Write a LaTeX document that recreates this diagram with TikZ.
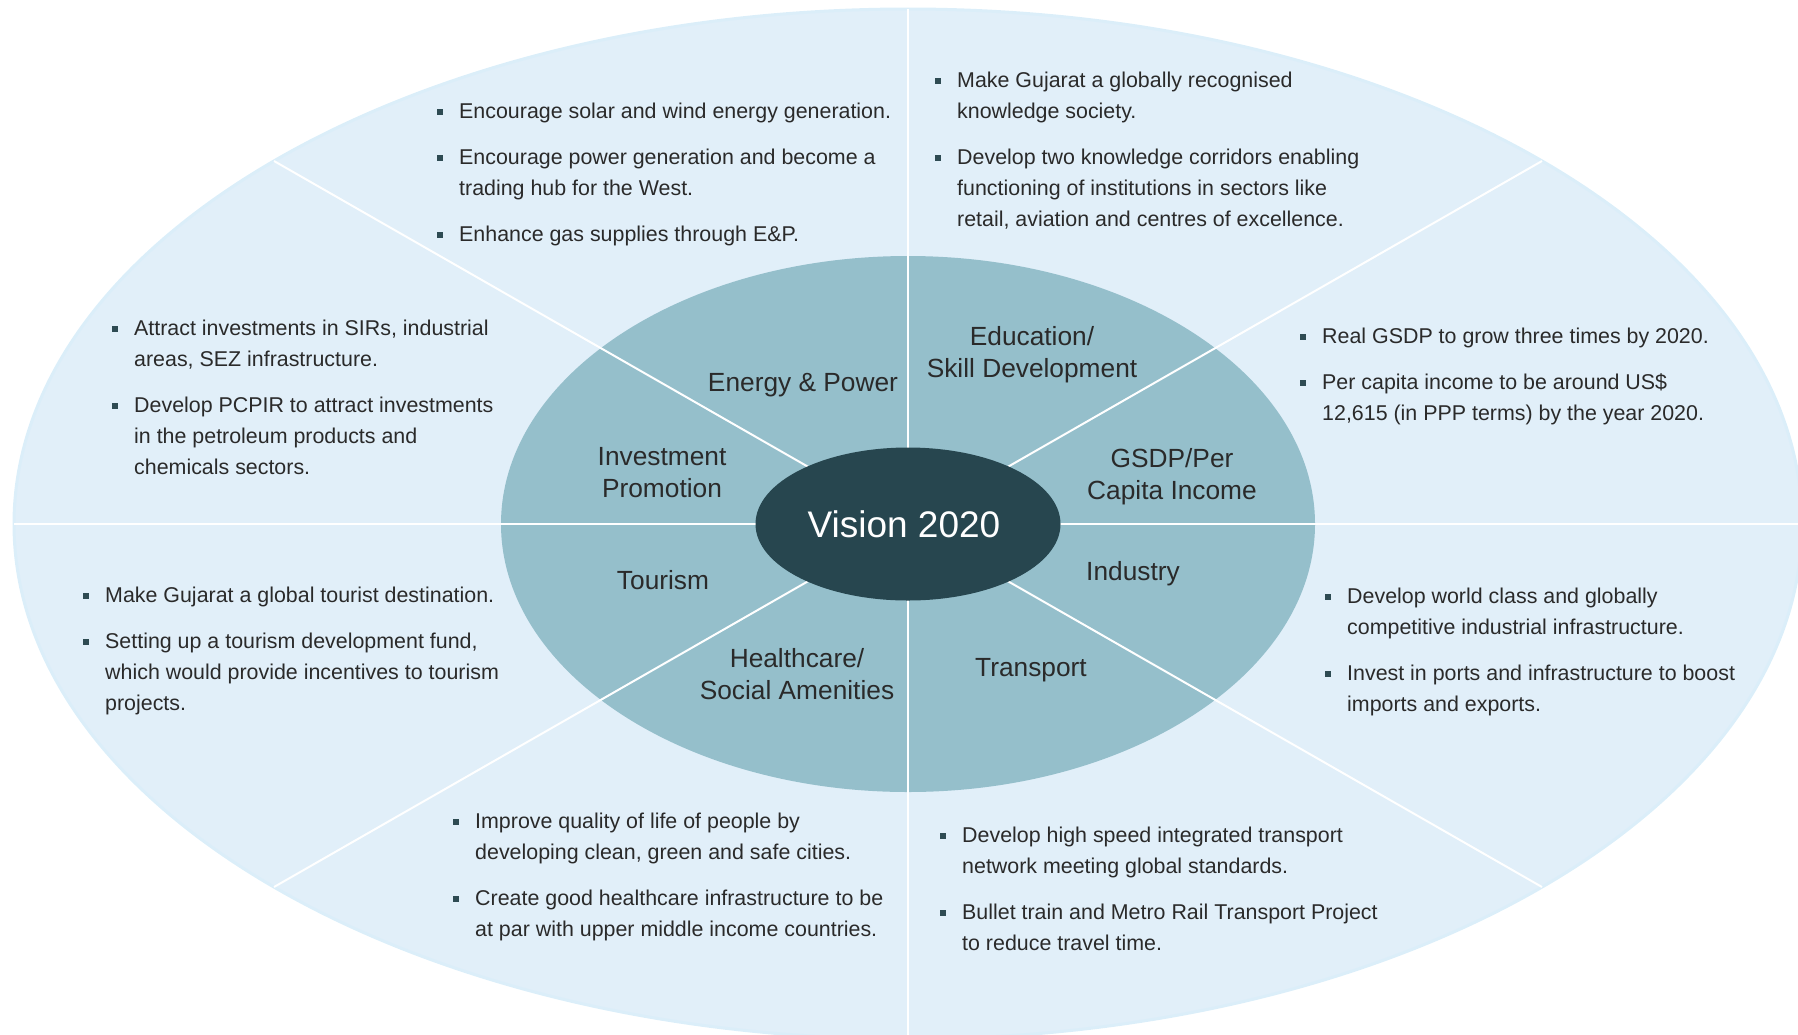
\documentclass[tikz,border=0pt]{standalone}
\usepackage{fontspec}
\setmainfont{Liberation Sans}
\usetikzlibrary{shapes.geometric}
\definecolor{outerc}{HTML}{E1EFF9}
\definecolor{outeredge}{HTML}{DBEEF9}
\definecolor{innerc}{HTML}{95BFCB}
\definecolor{darkc}{HTML}{27464F}
\definecolor{txtc}{HTML}{2A2A2A}
\definecolor{bulc}{HTML}{2E4B53}
\newcommand\bl{\rule{0pt}{16pt}\makebox[22pt][l]{\textcolor{bulc}{\rule[0.17em]{5.5pt}{5.5pt}}}}
\newcommand\ind{\hspace*{22pt}}
\tikzset{
  blk/.style={anchor=north west, inner sep=0pt, align=left, font=\fontsize{21.4}{31}\selectfont, text=txtc},
  lbl/.style={anchor=center, inner sep=0pt, align=center, font=\fontsize{26.3}{32}\selectfont, text=txtc},
  spoke/.style={draw=white, line width=2pt},
}
\begin{document}
\begin{tikzpicture}[x=1pt,y=-1pt]
\useasboundingbox (0,0) rectangle (1798,1034);
% outer ring
\path[fill=outerc, draw=outeredge, line width=3pt] (908,524) ellipse [x radius=894, y radius=515];
% inner ring
\path[fill=innerc] (908,524) ellipse [x radius=407, y radius=268];
% spokes
\coordinate (c) at (908,524);
\coordinate (eN) at (908,9);
\coordinate (eS) at (908,1039);
\coordinate (eW) at (14,524);
\coordinate (eE) at (1802,524);
\coordinate (eNW) at (274,161);
\coordinate (eNE) at (1542,161);
\coordinate (eSW) at (274,887);
\coordinate (eSE) at (1542,887);
\foreach \e in {eN,eS,eW,eE,eNW,eNE,eSW,eSE} \draw[spoke] (c) -- (\e);
% centre
\node[ellipse, fill=darkc, minimum width=305pt, minimum height=153pt, inner sep=0pt] (vision) at (908,524) {};
\node[inner sep=0pt, text=white, font=\fontsize{37}{40}\selectfont] (visiontxt) at (904,524) {Vision 2020};
% inner labels
\node[lbl] (energy) at (803,385) {Energy \& Power};
\node[lbl] (edu) at (1032,355) {Education/\\Skill Development};
\node[lbl] (invest) at (662,473) {Investment\\Promotion};
\node[lbl] (gsdp) at (1172,477) {GSDP/Per\\Capita Income};
\node[lbl] (tourism) at (663,580) {Tourism};
\node[lbl] (industry) at (1133,574) {Industry};
\node[lbl] (health) at (797,674) {Healthcare/\\Social Amenities};
\node[lbl] (transport) at (1031,670) {Transport};
% outer texts
\node[blk] (tEnergy) at (437,102) {\bl Encourage solar and wind energy generation.\\[15pt]
\bl Encourage power generation and become a\\
\ind trading hub for the West.\\[15pt]
\bl Enhance gas supplies through E\&P.};
\node[blk] (tEdu) at (935,71) {\bl Make Gujarat a globally recognised\\
\ind knowledge society.\\[15pt]
\bl Develop two knowledge corridors enabling\\
\ind functioning of institutions in sectors like\\
\ind retail, aviation and centres of excellence.};
\node[blk] (tGsdp) at (1300,327) {\bl Real GSDP to grow three times by 2020.\\[15pt]
\bl Per capita income to be around US\$\\
\ind 12,615 (in PPP terms) by the year 2020.};
\node[blk] (tInvest) at (112,319) {\bl Attract investments in SIRs, industrial\\
\ind areas, SEZ infrastructure.\\[15pt]
\bl Develop PCPIR to attract investments\\
\ind in the petroleum products and\\
\ind chemicals sectors.};
\node[blk] (tTourism) at (83,586) {\bl Make Gujarat a global tourist destination.\\[15pt]
\bl Setting up a tourism development fund,\\
\ind which would provide incentives to tourism\\
\ind projects.};
\node[blk] (tIndustry) at (1325,587) {\bl Develop world class and globally\\
\ind competitive industrial infrastructure.\\[15pt]
\bl Invest in ports and infrastructure to boost\\
\ind imports and exports.};
\node[blk] (tHealth) at (453,812) {\bl Improve quality of life of people by\\
\ind developing clean, green and safe cities.\\[15pt]
\bl Create good healthcare infrastructure to be\\
\ind at par with upper middle income countries.};
\node[blk] (tTransport) at (940,826) {\bl Develop high speed integrated transport\\
\ind network meeting global standards.\\[15pt]
\bl Bullet train and Metro Rail Transport Project\\
\ind to reduce travel time.};
\end{tikzpicture}
\end{document}
